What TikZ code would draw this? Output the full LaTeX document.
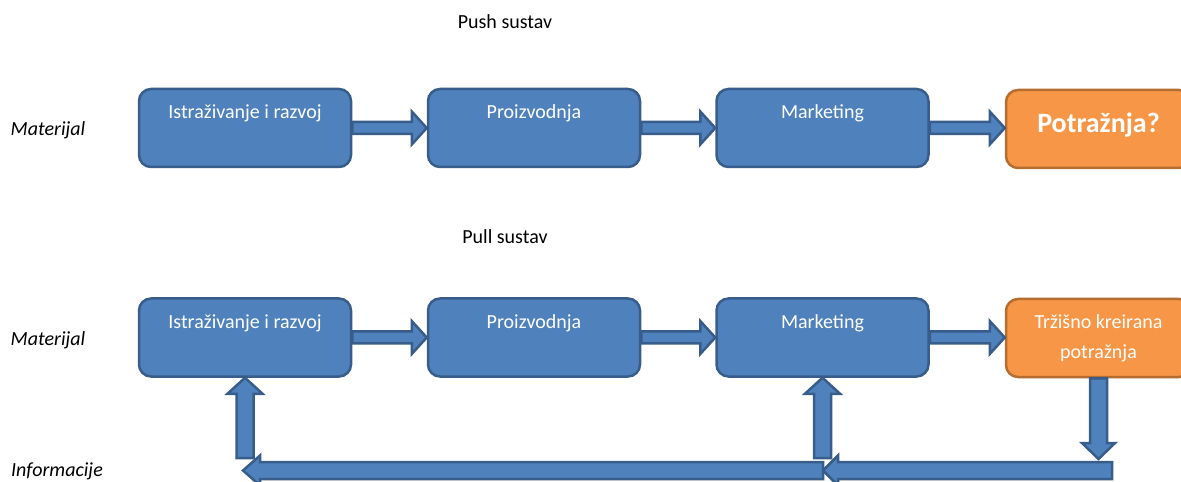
\documentclass[tikz,border=0pt]{standalone}
\usepackage{fontspec}
\setmainfont{Carlito}
\usetikzlibrary{calc}
\definecolor{boxblue}{HTML}{4F81BD}
\definecolor{boxblueline}{HTML}{385D8A}
\definecolor{boxorange}{HTML}{F79646}
\definecolor{boxorangeline}{HTML}{B66D31}
\tikzset{
  bluebox/.style={draw=boxblueline, fill=boxblue, line width=2.5bp, rounded corners=12bp,
    minimum width=212bp, minimum height=78bp, inner sep=0pt},
  orangebox/.style={draw=boxorangeline, fill=boxorange, line width=2.5bp, rounded corners=12bp,
    minimum width=185bp, minimum height=78bp, inner sep=0pt},
  lbl/.style={anchor=north, text=white, font=\fontsize{20bp}{24bp}\selectfont, inner sep=0pt, yshift=-17bp},
  side/.style={font=\fontsize{20bp}{24bp}\selectfont\itshape},
  title/.style={font=\fontsize{20bp}{24bp}\selectfont},
  barrow/.style={draw=boxblueline, fill=boxblue, line width=2.5bp, line join=miter},
}
% horizontal block arrow: start, end (tip), half shaft, half head, head length
\newcommand{\harrow}[5]{%
  \draw[barrow] let \p1=(#1), \p2=(#2), \n1={sign(\x2-\x1)} in
    (\x1,\y1+#3) -- (\x2-\n1*#5,\y1+#3) -- (\x2-\n1*#5,\y1+#4) -- (\x2,\y1)
    -- (\x2-\n1*#5,\y1-#4) -- (\x2-\n1*#5,\y1-#3) -- (\x1,\y1-#3) -- cycle;}
% vertical block arrow
\newcommand{\varrow}[5]{%
  \draw[barrow] let \p1=(#1), \p2=(#2), \n1={sign(\y2-\y1)} in
    (\x1+#3,\y1) -- (\x1+#3,\y2-\n1*#5) -- (\x1+#4,\y2-\n1*#5) -- (\x1,\y2)
    -- (\x1-#4,\y2-\n1*#5) -- (\x1-#3,\y2-\n1*#5) -- (\x1-#3,\y1) -- cycle;}
\begin{document}
\begin{tikzpicture}[x=1bp,y=-1bp]
\useasboundingbox (0,0) rectangle (1181,482);
\clip (0,0) rectangle (1181,482);

% titles and side labels
\node[title] (push) at (505,22) {Push sustav};
\node[title] (pull) at (505,237) {Pull sustav};
\node[side] (mat1) at (48,130) {Materijal};
\node[side] (mat2) at (48,340) {Materijal};
\node[side] (info) at (57,471) {Informacije};

% push row
\node[bluebox, label={[lbl]north:Istraživanje i razvoj}] (a1) at (245,128) {};
\node[bluebox, label={[lbl]north:Proizvodnja}] (a2) at (534,128) {};
\node[bluebox, label={[lbl]north:Marketing}] (a3) at (822.5,128) {};
\node[orangebox, label={[lbl, font=\fontsize{28bp}{32bp}\selectfont\bfseries, yshift=-7bp]north:Potražnja?}] (a4) at (1098.5,129) {};

\harrow{a1.east}{a2.west}{6bp}{16.5bp}{15bp}
\harrow{a2.east}{a3.west}{6bp}{16.5bp}{15bp}
\harrow{a3.east}{a4.west}{6bp}{16.5bp}{15bp}

% pull row
\node[bluebox, label={[lbl]north:Istraživanje i razvoj}] (b1) at (245,337.5) {};
\node[bluebox, label={[lbl]north:Proizvodnja}] (b2) at (534,337.5) {};
\node[bluebox, label={[lbl]north:Marketing}] (b3) at (822.5,337.5) {};
\node[orangebox, label={[lbl, align=center]north:Tržišno kreirana\\[6bp]potražnja}] (b4) at (1098.5,338) {};

\harrow{b1.east}{b2.west}{6bp}{16.5bp}{15bp}
\harrow{b2.east}{b3.west}{6bp}{16.5bp}{15bp}
\harrow{b3.east}{b4.west}{6bp}{16.5bp}{15bp}

% information feedback
\coordinate (downend) at (1098.5,459);
\coordinate (barR) at (1112,470.5);
\coordinate (barM) at (823,470.5);
\coordinate (barL) at (243,470.5);
\coordinate (upL) at (b1.south |- 0,458);
\coordinate (upR) at (b3.south |- 0,458);

\varrow{b4.south}{downend}{8.5bp}{16.5bp}{16bp}
\harrow{barR}{barM}{8.5bp}{15bp}{15bp}
\harrow{barM}{barL}{8.5bp}{15bp}{17bp}
\varrow{upL}{b1.south}{8.5bp}{17.5bp}{16bp}
\varrow{upR}{b3.south}{8.5bp}{17.5bp}{16bp}
\end{tikzpicture}
\end{document}
